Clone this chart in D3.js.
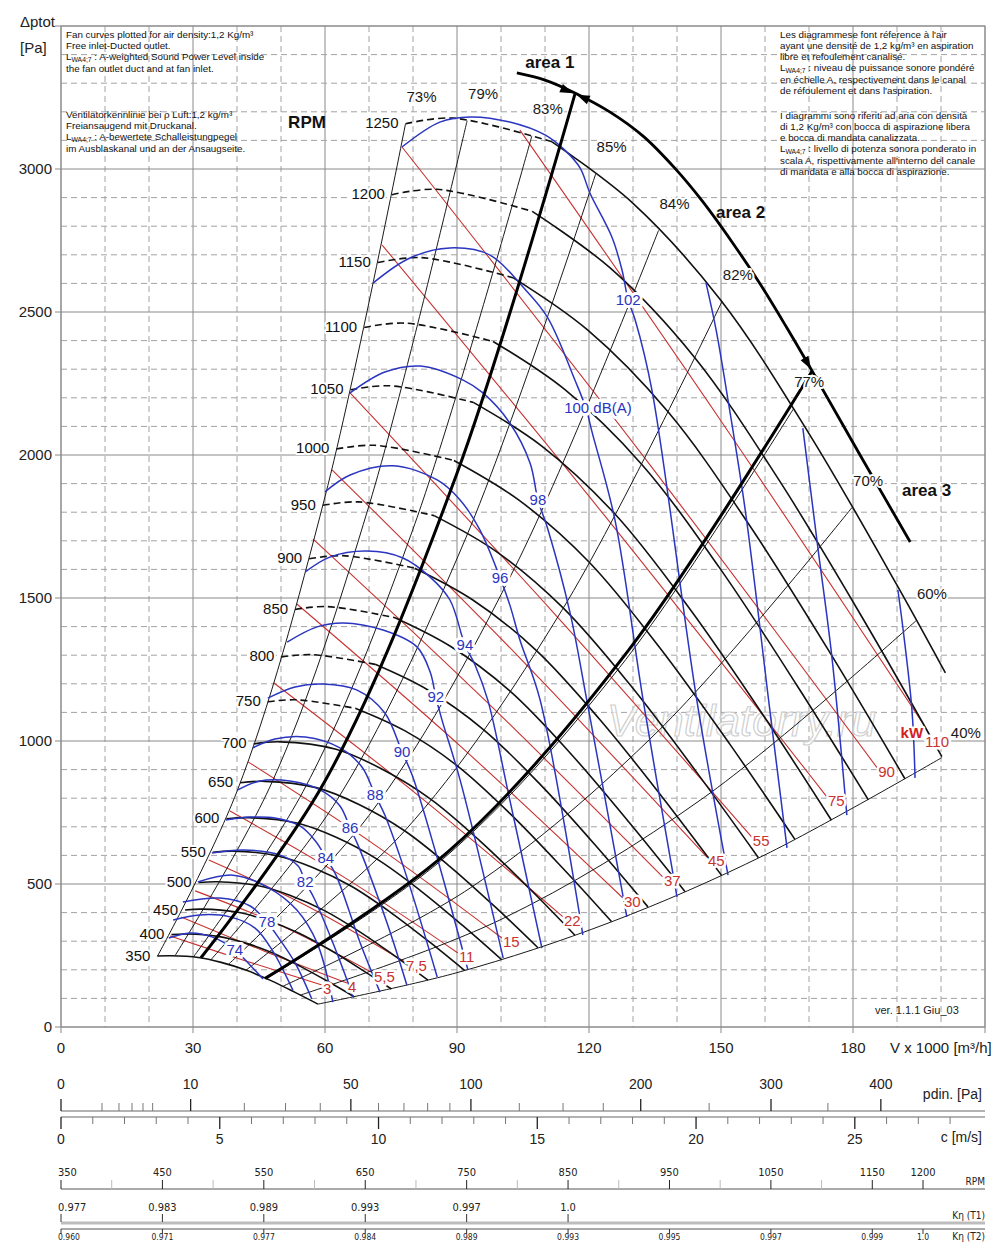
<!DOCTYPE html>
<html><head><meta charset="utf-8">
<script src="https://cdn.jsdelivr.net/npm/d3@7/dist/d3.min.js"></script>
<style>
body{margin:0;background:#fff;}
text{font-family:"Liberation Sans",Arial,Helvetica,sans-serif;}
.narrow{font-family:"Liberation Sans Narrow","DejaVu Sans Condensed","Liberation Sans",sans-serif;}
</style></head>
<body>
<svg id="chart" width="1000" height="1243" xmlns="http://www.w3.org/2000/svg"></svg>
<script>
// ================= DATA =================
// Axis ticks
const flowTicks = [0, 30, 60, 90, 120, 150, 180];
const pressTicks = [0, 500, 1000, 1500, 2000, 2500, 3000];

// Fan curves (flow V x1000 m3/h, total pressure Pa) for each speed
const rpmList = [350,400,450,500,550,600,650,700,750,800,850,900,950,1000,1050,1100,1150,1200,1250];
const fanFlow = [
 [21.9,24.9,31.2,36.4,42.0,47.6,53.2,58.4],
 [25.1,28.5,35.7,41.6,48.0,54.4,60.8,66.7],
 [28.2,32.0,40.2,46.8,54.0,61.2,68.4,75.1],
 [31.3,35.6,44.6,52.0,60.0,68.0,76.0,83.4],
 [34.5,39.2,49.1,57.2,66.0,74.8,83.6,91.7],
 [37.6,42.7,53.6,62.4,72.0,81.6,91.2,100.1],
 [40.7,46.3,58.0,67.6,78.0,88.4,98.8,108.4],
 [43.8,49.8,62.5,72.8,84.0,95.2,106.4,116.8],
 [47.0,53.4,67.0,78.0,90.0,102.0,114.0,125.1],
 [50.1,57.0,71.4,83.2,96.0,108.8,121.6,133.4],
 [53.2,60.5,75.9,88.4,102.0,115.6,129.2,141.8],
 [56.4,64.1,80.4,93.6,108.0,122.4,136.8,150.1],
 [59.5,67.6,84.8,98.8,114.0,129.2,144.4,158.5],
 [62.6,71.2,89.3,104.0,120.0,136.0,152.0,166.8],
 [65.8,74.8,93.7,109.2,126.0,142.8,159.6,175.1],
 [68.9,78.3,98.2,114.4,132.0,149.6,167.2,183.5],
 [72.0,81.9,102.7,119.6,138.0,156.4,174.8,191.8],
 [75.2,85.4,107.1,124.8,144.0,163.2,182.4,200.2],
 [78.3,89.0,111.6,130.0,150.0,170.0,190.0,201.0]
];
const fanPress = [
 [248,249,243,226,199,163,121,80],
 [323,325,317,295,260,212,158,105],
 [409,412,401,373,329,269,200,133],
 [505,508,495,461,406,332,247,164],
 [611,615,599,558,492,402,299,198],
 [728,732,713,664,585,478,356,236],
 [854,859,837,779,687,561,418,277],
 [990,997,971,903,797,651,485,321],
 [1137,1144,1114,1037,914,747,556,369],
 [1294,1302,1268,1180,1040,850,633,420],
 [1460,1470,1431,1332,1175,960,714,474],
 [1637,1648,1604,1493,1317,1076,801,531],
 [1824,1836,1788,1664,1467,1199,892,592],
 [2021,2034,1981,1843,1626,1328,989,656],
 [2228,2242,2184,2032,1792,1464,1090,723],
 [2446,2461,2397,2230,1967,1607,1196,794],
 [2673,2690,2620,2438,2150,1756,1308,868],
 [2910,2929,2852,2654,2341,1912,1424,945],
 [3158,3178,3095,2880,2540,2075,1545,1238]
];
const dashedFromRpm = 750;   // unstable part drawn dashed from this speed up
const dashedUntilPoint = 2;  // index of the point where the dashed part ends

// Efficiency lines
const effLabels = ["73%","79%","83%","85%","84%","82%","77%","70%","60%","40%"];
const effFlow = [
 [21.9,40,60,78.3],[25.9,48,70,92.3],[30.1,55,80,107],[34,62,92,121.5],
 [38,70,103,135.8],[42,78,114,150.2],[46.6,87,127,166.4],[50.5,93,136,179.8],
 [54.3,100,146,194.3],[58.4,90,125,160,200.2]
];
const effPress = [
 [247,824,1854,3158],[249,857,1823,3169],[245,823,1741,3115],[234,776,1710,2982],
 [218,740,1602,2785],[198,684,1461,2536],[169,590,1258,2160],[143,486,1039,1817],
 [111,376,801,1420],[80,190,367,602,942]
];

// Operating area boundaries
const area1Flow = [31.8,60,90,116.8];
const area1Press = [242,860,1936,3262];
const area23Flow = [46.4,88,129,170.7];
const area23Press = [170,613,1318,2294];
const arcFlow = [103.6,110.0,116.8,124.8,132.3,139.5,145.9,152.5,158.9,165.0,170.7,181.6,193.0];
const arcPress = [3336,3311,3266,3199,3115,3003,2885,2745,2598,2444,2294,2000,1696];
const areaNames = ["area 1","area 2","area 3"];

// Sound power level lines dB(A)
const dbLevels = [74,76,78,80,82,84,86,88,90,92,94,96,98,100,102,104,106,108];
const dbLabelText = ["74","","78","","82","84","86","88","90","92","94","96","98","100 dB(A)","102","","",""];
const dbLabelIdx = [3,-1,3,-1,4,5,5,5,5,6,6,6,7,7,10,-1,-1,-1];
const dbFlow = [
 [24.5,29.3,34.3,39.5,42.95,45.9],
 [25.5,31.6,38.4,44.1,48.0,52.7],
 [27.7,36.1,43.0,46.8,49.8,53.2,57.0],
 [31.1,39.1,46.8,53.6,58.2,61.8],
 [34.3,41.4,49.8,53.9,55.5,57.5,62.7,66.4],
 [37.5,43.0,48.6,54.3,58.0,60.2,62.5,68.0,72.5],
 [40.2,45.2,52.0,58.9,63.4,65.7,67.5,74.1,78.6],
 [43.6,48.6,55.5,63.4,68.4,71.4,73.6,78.6,85.5],
 [47.0,53.2,59.5,67.3,73.6,77.5,79.8,85.0,92.5],
 [51.4,58.2,64.1,73.2,80.9,83.9,85.2,86.6,90.7,100.5],
 [55.5,61.1,69.5,77.7,83.9,88.4,91.8,94.1,97.0,102.0,109.3],
 [60.0,65.7,75.5,85.5,90.7,95.2,99.8,102.0,104.3,108.9,118.6],
 [65.7,73.6,81.6,91.4,95.9,102.0,106.6,108.4,110.7,115.7,119.5,128.6],
 [70.9,79.3,88.4,97.5,105.0,110.5,116.8,119.3,120.7,125.9,132.3,140.0],
 [77.5,86.1,93.0,102.0,110.0,114.5,118.0,120.2,125.2,127.5,128.9,130.5,134.3,144.5,151.6],
 [146.6,148.9,151.6,155.5,161.1,165.0],
 [168.6,172.0,175.2,178.6],
 [190.2,191.4,193.4,194.1]
];
const dbPress = [
 [311,329,315,269,217,168],
 [374,392,385,346,269,129],
 [437,451,423,367,304,224,98],
 [507,531,490,409,294,87],
 [608,619,601,563,507,451,259,105],
 [724,734,731,703,647,591,531,294,122],
 [829,860,860,829,773,696,636,364,147],
 [976,1007,1014,976,909,811,741,524,175],
 [1150,1189,1199,1178,1098,962,881,619,199],
 [1346,1399,1413,1388,1329,1241,1153,1073,864,241],
 [1591,1643,1664,1640,1573,1493,1336,1266,1143,794,276],
 [1871,1930,1962,1913,1843,1738,1570,1476,1353,1143,322],
 [2217,2290,2311,2262,2217,2112,1972,1843,1738,1448,1143,385],
 [2601,2689,2724,2699,2587,2483,2262,2164,2080,1773,1143,455],
 [3077,3164,3182,3164,3119,3066,3003,2916,2762,2647,2542,2472,2227,1143,531],
 [2601,2437,2192,1808,1108,626],
 [2094,1678,1294,741],
 [1528,1388,1108,871]
];

// Absorbed power lines (kW)
const kwLabels = ["3","4","5,5","7,5","11","15","22","30","37","45","55","75","90","110"];
const kwFlow = [[24.8,42.0,59.3],[27.3,46.1,65.0],[30.5,50.7,70.9],[33.6,55.9,78.2],[38.4,64.3,90.2],
 [42.5,71.4,100.2],[48.4,81.1,114.1],[53.6,90.7,127.7],[57.3,97.0,136.8],[61.6,104.3,146.8],
 [65.7,111.4,157.0],[73.0,123.6,174.1],[77.5,131.6,185.5],[104.3,150.0,195.7]];
const kwPress = [[318,231,147],[385,266,154],[476,350,189],[584,423,227],[755,524,259],
 [927,636,311],[1203,811,385],[1479,983,451],[1706,1133,524],[1948,1290,594],
 [2217,1458,664],[2734,1787,804],[3077,2011,906],[3136,2119,1066]];

// Secondary scales
const pdinMajor = [0,10,50,100,200,300,400];
const pdinMinor = [1,2,3,4,5,20,30,40,60,70,80,90,125,150,175,250,350];
const velMajor = [0,5,10,15,20,25];
const velMinor = [1,2,3,4,6,7,8,9,11,12,13,14,16,17,18,19,21,22,23,24,26,27,28];
const rpmAxisLabels = [350,450,550,650,750,850,950,1050,1150,1200];
const rpmAxisMinor = [400,500,600,700,800,900,1000,1100];
const kT1Rpm = [350,450,550,650,750,850];
const kT1Values = ["0.977","0.983","0.989","0.993","0.997","1.0"];
const kT2Values = ["0.960","0.971","0.977","0.984","0.989","0.993","0.995","0.997","0.999","1.0"];

// Notes
const noteLeftA = ["Fan curves plotted for air density:1,2 Kg/m³","Free inlet-Ducted outlet.",
 "L{WA4;7} : A-weighted Sound Power Level inside","the fan outlet duct and at fan inlet."];
const noteLeftB = ["Ventilatorkennlinie bei ρ Luft:1,2 kg/m³","Freiansaugend mit Druckanal.",
 "L{WA4;7} : A-bewertete Schalleistungpegel","im Ausblaskanal und an der Ansaugseite."];
const noteRightA = ["Les diagrammese font réference à l'air","ayant une densité de 1,2 kg/m³ en aspiration",
 "libre et refoulement canalisé.","L{WA4;7} : niveau de puissance sonore pondéré",
 "en échelle A, respectivement dans le canal","de réfoulement et dans l'aspiration."];
const noteRightB = ["I diagrammi sono riferiti ad aria con densità","di 1,2 Kg/m³ con bocca di aspirazione libera",
 "e bocca di mandata canalizzata.","L{WA4;7} : livello di potenza sonora ponderato in",
 "scala A, rispettivamente all'interno del canale","di mandata e alla bocca di aspirazione."];

// ================= DRAWING =================
const svg = d3.select("#chart");
svg.append("rect").attr("width",1000).attr("height",1243).attr("fill","#fff");

const x = d3.scaleLinear().domain([0,210]).range([61,985]);
const y = d3.scaleLinear().domain([0,3500]).range([1027,26]);
const toPts = (V,P) => V.map((v,i)=>[v,P[i]]);
const lineGen = d3.line().x(d=>x(d[0])).y(d=>y(d[1])).curve(d3.curveCatmullRom.alpha(0.5));

// ---- grid
const grid = svg.append("g");
d3.range(0,211,10).forEach(v=>{
  const major = v%30===0;
  grid.append("line").attr("x1",x(v)).attr("x2",x(v))
    .attr("y1",y(3500)).attr("y2",y(0)+(major?6:0))
    .attr("stroke",major?"#8a8a8a":"#a3a3a3").attr("stroke-width",1)
    .attr("stroke-dasharray",major?null:"6,4");
});
d3.range(0,3501,100).forEach(p=>{
  const major = p%500===0;
  grid.append("line").attr("x1",major?55:x(0)).attr("x2",x(210))
    .attr("y1",y(p)).attr("y2",y(p))
    .attr("stroke",major?"#8a8a8a":"#a3a3a3").attr("stroke-width",1)
    .attr("stroke-dasharray",major?null:"6,4");
});
grid.append("rect").attr("x",x(0)).attr("y",y(3500)).attr("width",x(210)-x(0)).attr("height",y(0)-y(3500))
  .attr("fill","none").attr("stroke","#8a8a8a");

// ---- axes labels
const axG = svg.append("g").attr("font-size",15).attr("fill","#222");
pressTicks.forEach(p=>{
  axG.append("text").attr("x",52).attr("y",y(p)).attr("dy","0.35em").attr("text-anchor","end").text(p);
});
flowTicks.forEach(v=>{
  axG.append("text").attr("x",x(v)).attr("y",1053).attr("text-anchor","middle").text(v);
});
axG.append("text").attr("x",890).attr("y",1053).text("V x 1000 [m³/h]");
axG.append("text").attr("x",20).attr("y",27).text("Δptot");
axG.append("text").attr("x",20).attr("y",53).text("[Pa]");

// ---- watermark
svg.append("text").attr("x",607).attr("y",736).attr("font-size",44).attr("font-style","italic")
  .attr("fill","#fff").attr("fill-opacity",0.7).attr("stroke","#cfcfcf").attr("stroke-width",1.2)
  .text("Ventilatorry.ru");

// ---- power lines (red)
const redG = svg.append("g");
kwFlow.forEach((V,i)=>{
  redG.append("path").attr("d",lineGen(toPts(V,kwPress[i])))
    .attr("fill","none").attr("stroke","#c8322f").attr("stroke-width",1.1);
});

// ---- efficiency lines
const effG = svg.append("g");
effFlow.forEach((V,i)=>{
  effG.append("path").attr("d",lineGen(toPts(V,effPress[i])))
    .attr("fill","none").attr("stroke","#1a1a1a").attr("stroke-width",1);
});

// ---- fan curves
const fanG = svg.append("g");
rpmList.forEach((n,i)=>{
  const pts = toPts(fanFlow[i],fanPress[i]);
  if(n>=dashedFromRpm){
    fanG.append("path").attr("d",lineGen(pts.slice(0,dashedUntilPoint+1)))
      .attr("fill","none").attr("stroke","#111").attr("stroke-width",1.6).attr("stroke-dasharray","7,4");
    fanG.append("path").attr("d",lineGen(pts.slice(dashedUntilPoint)))
      .attr("fill","none").attr("stroke","#111").attr("stroke-width",1.6);
  } else {
    fanG.append("path").attr("d",lineGen(pts))
      .attr("fill","none").attr("stroke","#111").attr("stroke-width",1.6);
  }
});

// ---- sound lines (blue)
const blueG = svg.append("g");
dbFlow.forEach((V,i)=>{
  blueG.append("path").attr("d",lineGen(toPts(V,dbPress[i])))
    .attr("fill","none").attr("stroke","#2a35c0").attr("stroke-width",1.5);
});

// ---- operating areas
const areaG = svg.append("g");
areaG.append("path").attr("d",lineGen(toPts(area1Flow,area1Press)))
  .attr("fill","none").attr("stroke","#000").attr("stroke-width",3);
areaG.append("path").attr("d",lineGen(toPts(area23Flow,area23Press)))
  .attr("fill","none").attr("stroke","#000").attr("stroke-width",3);
const arcPts = toPts(arcFlow,arcPress);
areaG.append("path").attr("d",lineGen(arcPts))
  .attr("fill","none").attr("stroke","#000").attr("stroke-width",2.8);

function arcDir(v){
  let k=0; while(k<arcPts.length-2 && arcPts[k+1][0]<v) k++;
  const a=[x(arcPts[k][0]),y(arcPts[k][1])], b=[x(arcPts[k+1][0]),y(arcPts[k+1][1])];
  const L=Math.hypot(b[0]-a[0],b[1]-a[1]); return [(b[0]-a[0])/L,(b[1]-a[1])/L];
}
function arrow(px,py,dx,dy){
  const L=13,W=4.5, bx=px-dx*L, by=py-dy*L, nx=-dy, ny=dx;
  areaG.append("path").attr("d",`M${px},${py}L${bx+nx*W},${by+ny*W}L${bx-nx*W},${by-ny*W}Z`).attr("fill","#000");
}
[[area1Flow,area1Press],[area23Flow,area23Press]].forEach(([V,P])=>{
  const v=V[V.length-1], p=P[P.length-1];
  const px=x(v), py=y(p); const [dx,dy]=arcDir(v);
  arrow(px-dx*2,py-dy*2,dx,dy);
  arrow(px+dx*2,py+dy*2,-dx,-dy);
});

// ---- labels with white halo
const labG = svg.append("g");
function halo(sel){ return sel.attr("stroke","#fff").attr("stroke-width",4).attr("paint-order","stroke").attr("stroke-linejoin","round"); }

// rpm labels
rpmList.forEach((n,i)=>{
  halo(labG.append("text").attr("x",x(fanFlow[i][0])-7).attr("y",y(fanPress[i][0])).attr("dy","0.3em")
    .attr("text-anchor","end").attr("font-size",15).attr("fill","#111").text(n));
});
labG.append("text").attr("x",307).attr("y",128).attr("text-anchor","middle").attr("font-size",17)
  .attr("font-weight","bold").attr("fill","#111").text("RPM");

// efficiency labels at the top end of each line
effLabels.forEach((t,i)=>{
  const V=effFlow[i], P=effPress[i];
  const last = i===effLabels.length-1;
  halo(labG.append("text").attr("x",x(V[V.length-1])+(last?24:16)).attr("y",y(P[P.length-1])-(last?25:27)).attr("dy","0.35em")
    .attr("text-anchor","middle").attr("font-size",15).attr("fill","#1a1a1a").text(t));
});

// dB labels
dbLevels.forEach((d,i)=>{
  const k=dbLabelIdx[i]; if(k<0) return;
  const px=x(dbFlow[i][k]), py=y(dbPress[i][k]);
  const wide = dbLabelText[i].length>4;
  halo(labG.append("text").attr("x",px+(wide?12:0)).attr("y",py).attr("dy","0.35em")
    .attr("text-anchor","middle").attr("font-size",15).attr("fill","#2a35c0").text(dbLabelText[i]))
    .attr("stroke-width",6);
});

// kW labels
kwLabels.forEach((t,i)=>{
  const V=kwFlow[i], P=kwPress[i];
  const px=x(V[V.length-1]), py=y(P[P.length-1]);
  const last = i===kwLabels.length-1;
  halo(labG.append("text").attr("x",last?px+3:px+1).attr("y",last?py+25:py+9)
    .attr("font-size",15).attr("fill","#c8322f").text(t)).attr("stroke-width",5);
  if(last){
    halo(labG.append("text").attr("x",px+1).attr("y",py+16).attr("text-anchor","end")
      .attr("font-size",15).attr("font-weight","bold").attr("fill","#d42020").text("kW"));
  }
});

// area labels
const a1 = [x(arcFlow[0]),y(arcPress[0])];
labG.append("text").attr("x",a1[0]+33).attr("y",a1[1]-5).attr("text-anchor","middle").attr("font-size",17)
  .attr("font-weight","bold").attr("fill","#111").text(areaNames[0]);
labG.append("text").attr("x",716).attr("y",218).attr("font-size",17)
  .attr("font-weight","bold").attr("fill","#111").text(areaNames[1]);
labG.append("text").attr("x",902).attr("y",496).attr("font-size",17)
  .attr("font-weight","bold").attr("fill","#111").text(areaNames[2]);

// version
labG.append("text").attr("x",875).attr("y",1014).attr("font-size",11).attr("fill","#222").text("ver. 1.1.1 Giu_03");

// ---- notes
function noteBlock(lines,x0,y0,step){
  lines.forEach((s,i)=>{
    const t = svg.append("text").attr("x",x0).attr("y",y0+i*step).attr("font-size",9.8).attr("fill","#111");
    const parts = s.split(/\{(.*?)\}/);
    parts.forEach((p,j)=>{
      if(j%2===1){ t.append("tspan").attr("font-size",6.8).attr("dy",2).text(p); }
      else if(p){ const ts=t.append("tspan").text(p); if(j>0) ts.attr("dy",-2); }
    });
  });
}
noteBlock(noteLeftA,66,37.5,11.4);
noteBlock(noteLeftB,66,117.5,11.4);
noteBlock(noteRightA,780,37.5,11.3);
noteBlock(noteRightB,780,118.5,11.3);

// ================= SECONDARY AXES =================
const bot = svg.append("g");
const velScale = d3.scaleLinear().domain([0,29.1]).range([61,985]);
const pdinScale = d3.scaleSqrt().domain([0,0.6*29.1*29.1]).range([61,985]);
const rpmScale = d3.scaleLinear().domain([350,1200]).range([61,923]);
const firstAnchor = i => i===0 ? "start" : "middle";
const firstX = (i,v) => i===0 ? v-3 : v;

// pdin
bot.append("line").attr("x1",61).attr("x2",985).attr("y1",1111).attr("y2",1111).attr("stroke","#666").attr("stroke-width",1.2);
pdinMajor.forEach(p=>{
  bot.append("line").attr("x1",pdinScale(p)).attr("x2",pdinScale(p)).attr("y1",1099).attr("y2",1111).attr("stroke","#222").attr("stroke-width",1.3);
  bot.append("text").attr("x",pdinScale(p)).attr("y",1089).attr("text-anchor","middle").attr("font-size",14).attr("fill","#222").text(p);
});
pdinMinor.forEach(p=>{
  bot.append("line").attr("x1",pdinScale(p)).attr("x2",pdinScale(p)).attr("y1",1103).attr("y2",1111).attr("stroke","#777");
});
bot.append("text").attr("x",982).attr("y",1099).attr("text-anchor","end").attr("font-size",14).attr("fill","#222").text("pdin. [Pa]");

// velocity
bot.append("line").attr("x1",61).attr("x2",985).attr("y1",1117).attr("y2",1117).attr("stroke","#666").attr("stroke-width",1.2);
velMajor.forEach(c=>{
  bot.append("line").attr("x1",velScale(c)).attr("x2",velScale(c)).attr("y1",1117).attr("y2",1129).attr("stroke","#222").attr("stroke-width",1.3);
  bot.append("text").attr("x",velScale(c)).attr("y",1144).attr("text-anchor","middle").attr("font-size",14).attr("fill","#222").text(c);
});
velMinor.forEach(c=>{
  bot.append("line").attr("x1",velScale(c)).attr("x2",velScale(c)).attr("y1",1117).attr("y2",1124).attr("stroke","#777");
});
bot.append("text").attr("x",982).attr("y",1142).attr("text-anchor","end").attr("font-size",14).attr("fill","#222").text("c [m/s]");

// rpm
bot.append("line").attr("x1",61).attr("x2",985).attr("y1",1189).attr("y2",1189).attr("stroke","#555");
rpmAxisLabels.forEach((n,i)=>{
  bot.append("line").attr("x1",rpmScale(n)).attr("x2",rpmScale(n)).attr("y1",1180).attr("y2",1189).attr("stroke","#222");
  bot.append("text").attr("class","narrow").attr("x",firstX(i,rpmScale(n))).attr("y",1176).attr("text-anchor",firstAnchor(i)).attr("font-size",11).attr("fill","#222").text(n);
});
rpmAxisMinor.forEach(n=>{
  bot.append("line").attr("x1",rpmScale(n)).attr("x2",rpmScale(n)).attr("y1",1180).attr("y2",1189).attr("stroke","#bbb");
});
bot.append("text").attr("class","narrow").attr("x",985).attr("y",1185).attr("text-anchor","end").attr("font-size",10).attr("fill","#222").text("RPM");

// K eta T1
bot.append("line").attr("x1",61).attr("x2",985).attr("y1",1223).attr("y2",1223).attr("stroke","#bdbdbd").attr("stroke-width",3);
kT1Rpm.forEach((n,i)=>{
  bot.append("line").attr("x1",rpmScale(n)).attr("x2",rpmScale(n)).attr("y1",1214).attr("y2",1222).attr("stroke","#333");
  bot.append("text").attr("class","narrow").attr("x",firstX(i,rpmScale(n))).attr("y",1211).attr("text-anchor",firstAnchor(i)).attr("font-size",11).attr("fill","#222").text(kT1Values[i]);
});
bot.append("text").attr("class","narrow").attr("x",985).attr("y",1219).attr("text-anchor","end").attr("font-size",10).attr("fill","#222").text("Kη (T1)");

// K eta T2
bot.append("line").attr("x1",61).attr("x2",985).attr("y1",1229).attr("y2",1229).attr("stroke","#555");
rpmAxisLabels.forEach((n,i)=>{
  bot.append("line").attr("x1",rpmScale(n)).attr("x2",rpmScale(n)).attr("y1",1229).attr("y2",1234).attr("stroke","#333");
  bot.append("text").attr("class","narrow").attr("x",firstX(i,rpmScale(n))).attr("y",1239.5).attr("text-anchor",firstAnchor(i)).attr("font-size",8.5).attr("fill","#222").text(kT2Values[i]);
});
bot.append("text").attr("class","narrow").attr("x",985).attr("y",1239.5).attr("text-anchor","end").attr("font-size",10).attr("fill","#222").text("Kη (T2)");
</script>
</body></html>
